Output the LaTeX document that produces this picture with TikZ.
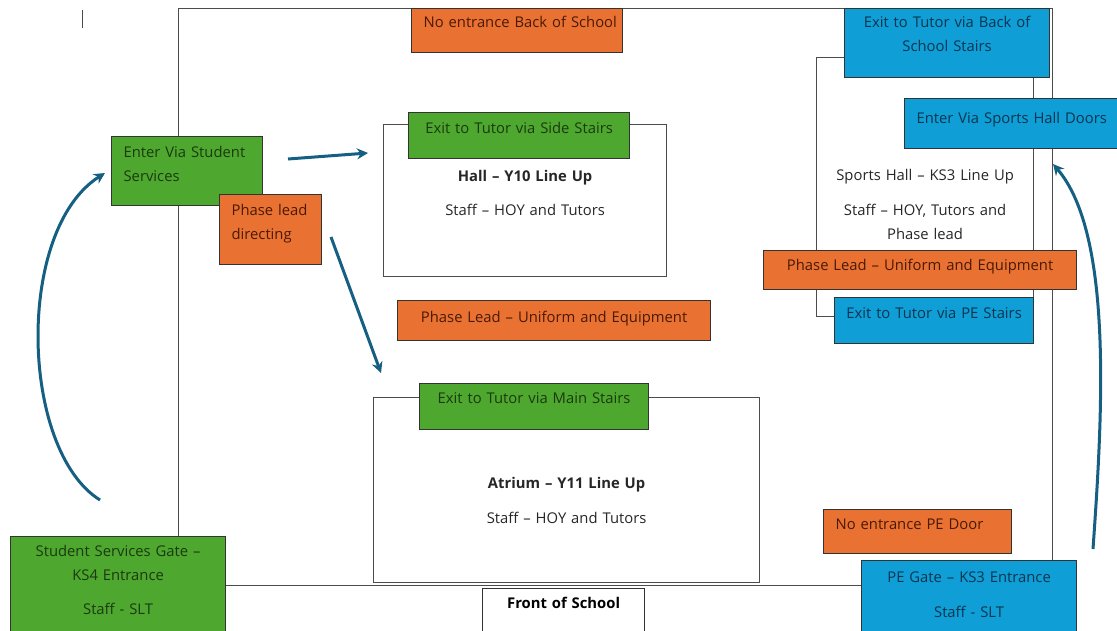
\documentclass[tikz,border=0pt]{standalone}
\usepackage{fontspec}
\setmainfont{Open Sans}
\usetikzlibrary{arrows.meta}
\definecolor{boxgreen}{HTML}{4EA72E}
\definecolor{boxorange}{HTML}{E97132}
\definecolor{boxblue}{HTML}{0F9ED5}
\definecolor{textgreen}{HTML}{1B3A10}
\definecolor{textorange}{HTML}{4A1A06}
\definecolor{textblue}{HTML}{0B3550}
\definecolor{routeblue}{HTML}{156082}
\tikzset{
  tag/.style={draw=black!80, line width=1.2pt, anchor=north west, inner ysep=0pt, font=\fontsize{14.8}{24}\selectfont},
  gbox/.style={tag, fill=boxgreen, text=textgreen},
  obox/.style={tag, fill=boxorange, text=textorange},
  bbox/.style={tag, fill=boxblue, text=textblue},
  wbox/.style={tag, fill=white, text=black},
  leftset/.style={inner xsep=12pt, align=left},
  midset/.style={inner xsep=0pt, align=center},
  room/.style={draw=black!70, line width=1.2pt, anchor=north west, inner sep=0pt, align=center, text=black!85, font=\fontsize{14.8}{24}\selectfont},
  route/.style={draw=routeblue, line width=3pt, -{Stealth[length=11pt,width=11pt]}}
}
\begin{document}
\begin{tikzpicture}[x=1pt,y=-1pt]
\useasboundingbox (0,0) rectangle (1117,630);
\clip (0,0) rectangle (1117,630);
\draw[line width=1pt, black!70] (82,10) -- (82,28);

\node[room, minimum width=874pt, minimum height=577pt] (school) at (178,8) {};
\node[room, text width=283pt, text height=57pt, text depth=95pt] (hall) at (383,124) {\textbf{Hall -- Y10 Line Up}\\[10pt]Staff -- HOY and Tutors};
\node[room, text width=386pt, text height=91pt, text depth=94pt] (atrium) at (373,397) {\textbf{Atrium -- Y11 Line Up}\\[11pt]Staff -- HOY and Tutors};
\node[room, text width=217pt, text height=123pt, text depth=136pt] (sportshall) at (816,57) {Sports Hall -- KS3 Line Up\\[11pt]Staff -- HOY, Tutors and\\Phase lead};

\node[obox, leftset, text width=187pt, text height=19pt, text depth=25pt] (noback) at (411,8) {\mbox{No entrance Back of School}};
\node[bbox, midset, text width=205pt, text height=19pt, text depth=50pt] (backstairs) at (844,8) {Exit to Tutor via Back of\\School Stairs};
\node[bbox, leftset, text width=200pt, text height=25pt, text depth=25pt] (sportsdoors) at (904,98) {\mbox{Enter Via Sports Hall Doors}};
\node[obox, midset, text width=313pt, text height=20pt, text depth=19pt] (phaseright) at (763,250) {Phase Lead -- Uniform and Equipment};
\node[bbox, midset, text width=199pt, text height=21pt, text depth=25pt] (pestairs) at (834,297) {Exit to Tutor via PE Stairs};

\node[gbox, leftset, text width=127pt, text height=21pt, text depth=48pt] (enterss) at (111,136) {\mbox{Enter Via Student}\\Services};
\node[obox, leftset, text width=78pt, text height=21pt, text depth=49pt] (phasedir) at (219,194) {Phase lead\\directing};
\node[gbox, midset, text width=221pt, text height=21pt, text depth=25pt] (sidestairs) at (408,112) {Exit to Tutor via Side Stairs};
\node[obox, midset, text width=313pt, text height=22pt, text depth=18pt] (phasemid) at (397,300) {Phase Lead -- Uniform and Equipment};
\node[gbox, midset, text width=229pt, text height=20pt, text depth=26pt] (mainstairs) at (419,383) {Exit to Tutor via Main Stairs};
\node[wbox, midset, text width=162pt, text height=20pt, text depth=40pt] (front) at (482,588) {\textbf{Front of School}};
\node[gbox, midset, text width=215pt, text height=20pt, text depth=80pt] (ssgate) at (10,536) {Student Services Gate --\\KS4 Entrance\\[10pt]Staff - SLT};
\node[obox, leftset, text width=164pt, text height=20pt, text depth=24pt] (nope) at (823,509) {\mbox{No entrance PE Door}};
\node[bbox, midset, text width=215pt, text height=22pt, text depth=53pt] (pegate) at (861,560) {PE Gate -- KS3 Entrance\\[11pt]Staff - SLT};

\coordinate (toHallA) at (288,159);
\coordinate (toHallB) at (368,153);
\coordinate (toAtrA) at (331,237);
\coordinate (toAtrB) at (381,373);
\coordinate (ksFourA) at (100,500);
\coordinate (ksFourB) at (105,173);
\coordinate (ksThreeA) at (1093,549);
\coordinate (ksThreeB) at (1053,164);
\draw[route] (toHallA) -- (toHallB);
\draw[route] (toAtrA) -- (toAtrB);
\draw[route] (ksFourA) .. controls (20,450) and (15,230) .. (ksFourB);
\draw[route] (ksThreeA) .. controls (1102,420) and (1114,235) .. (ksThreeB);
\end{tikzpicture}
\end{document}
